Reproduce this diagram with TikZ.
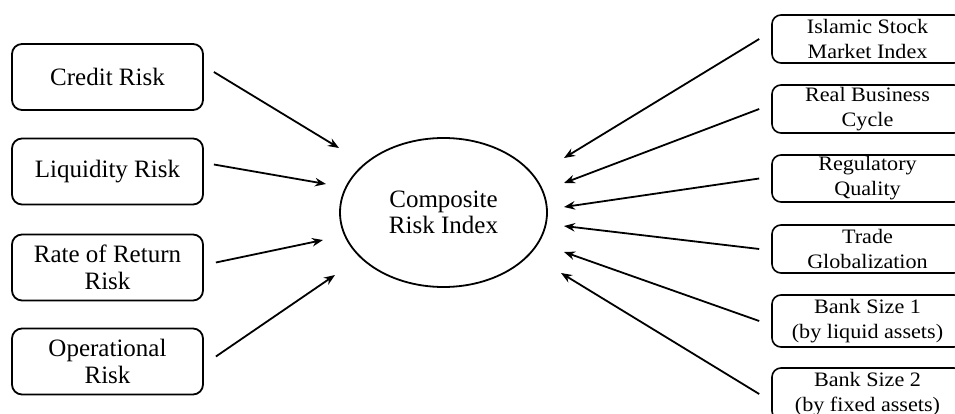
\documentclass[tikz,border=0pt]{standalone}
\usepackage{fontspec}
\setmainfont{Liberation Serif}
\newfontfamily\rfont[FakeStretch=1.08]{Liberation Serif}
\usetikzlibrary{arrows.meta,shapes.geometric}
\begin{document}
\begin{tikzpicture}[x=1pt,y=-1pt,
  lbox/.style={draw, line width=1.8pt, rounded corners=10pt, minimum width=191pt, minimum height=66pt, align=center, inner sep=0pt, font=\fontsize{25}{27}\selectfont},
  rbox/.style={draw, line width=1.6pt, rounded corners=9pt, minimum width=191pt, align=center, inner sep=0pt, font=\rfont\fontsize{20.5}{25}\selectfont},
  arr/.style={-{Stealth[length=11pt,width=8.5pt]}, line width=1.8pt}]
\useasboundingbox (0,0) rectangle (955,414);
\clip (0,0) rectangle (955,414);
% left boxes
\node[lbox] (credit) at (107.5,77) {Credit Risk};
\node[lbox] (liq) at (107.5,171.5) {Liquidity Risk};
\node[lbox] (ror) at (107.5,267.5) {Rate of Return\\Risk};
\node[lbox] (op) at (107.5,361.5) {Operational\\Risk};
% centre
\node[draw, ellipse, line width=1.8pt, minimum width=207pt, minimum height=149pt, inner sep=0pt, align=center, font=\fontsize{25}{26}\selectfont] (cri) at (443.5,212.5) {Composite\\Risk Index};
% right boxes
\node[rbox, minimum height=48pt] (isl) at (867.5,39) {Islamic Stock\\Market Index};
\node[rbox, minimum height=48pt] (rbc) at (867.5,109) {Real Business\\Cycle};
\node[rbox, minimum height=47pt] (reg) at (867.5,178.5) {Regulatory\\Quality};
\node[rbox, minimum height=48pt] (trade) at (867.5,249) {Trade\\Globalization};
\node[rbox, minimum height=52pt] (bs1) at (867.5,321) {Bank Size 1\\(by liquid assets)};
\node[rbox, minimum height=52pt] (bs2) at (867.5,394) {Bank Size 2\\(by fixed assets)};
% arrow end points
\coordinate (e1) at (339,148);
\coordinate (e2) at (326,184);
\coordinate (e3) at (323,240);
\coordinate (e4) at (335,275);
\coordinate (f1) at (564,158);
\coordinate (f2) at (564,183);
\coordinate (f3) at (564,207);
\coordinate (f4) at (564,226);
\coordinate (f5) at (564,252);
\coordinate (f6) at (561,273);
% left arrows
\draw[arr] ([shift={(10,-5)}]credit.east) -- (e1);
\draw[arr] ([shift={(10,-7)}]liq.east) -- (e2);
\draw[arr] ([shift={(12,-5)}]ror.east) -- (e3);
\draw[arr] ([shift={(12,-5)}]op.east) -- (e4);
% right arrows
\draw[arr] ([xshift=-12pt]isl.west) -- (f1);
\draw[arr] ([xshift=-12pt]rbc.west) -- (f2);
\draw[arr] ([xshift=-12pt]reg.west) -- (f3);
\draw[arr] ([xshift=-12pt]trade.west) -- (f4);
\draw[arr] ([xshift=-12pt]bs1.west) -- (f5);
\draw[arr] ([xshift=-12pt]bs2.west) -- (f6);
\end{tikzpicture}
\end{document}
